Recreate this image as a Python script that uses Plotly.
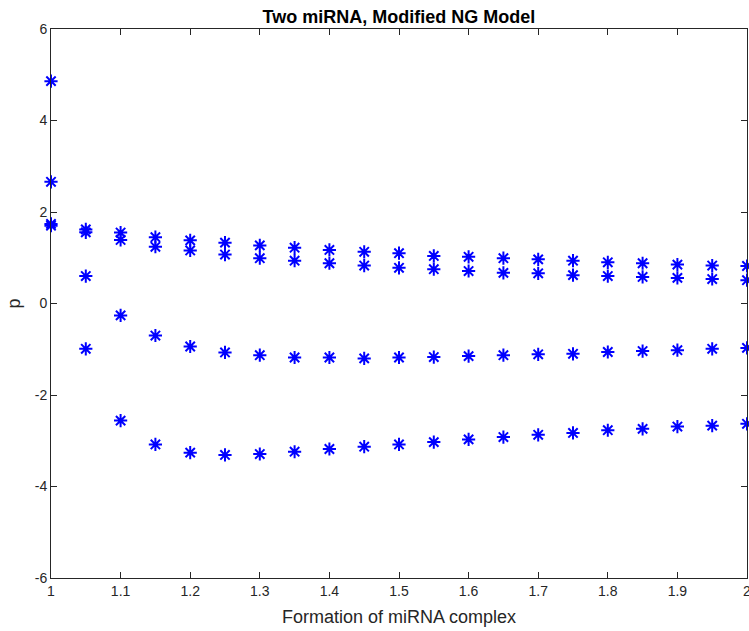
import plotly.graph_objects as go

x_vals = [1.00, 1.05, 1.10, 1.15, 1.20, 1.25, 1.30, 1.35, 1.40, 1.45, 1.50,
          1.55, 1.60, 1.65, 1.70, 1.75, 1.80, 1.85, 1.90, 1.95, 2.00]

root_1 = [4.86, 1.62, 1.55, 1.45, 1.38, 1.33, 1.27, 1.22, 1.17, 1.13, 1.10,
          1.04, 1.02, 0.99, 0.965, 0.935, 0.90, 0.88, 0.85, 0.83, 0.82]
root_2 = [2.66, 1.555, 1.39, 1.24, 1.16, 1.07, 0.99, 0.935, 0.88, 0.83, 0.78,
          0.75, 0.71, 0.67, 0.66, 0.62, 0.60, 0.58, 0.56, 0.535, 0.51]
root_3 = [1.74, 0.60, -0.26, -0.70, -0.94, -1.07, -1.13, -1.18, -1.18, -1.20, -1.18,
          -1.17, -1.15, -1.13, -1.11, -1.10, -1.06, -1.04, -1.02, -0.99, -0.97]
root_4 = [1.70, -0.99, -2.56, -3.08, -3.26, -3.31, -3.29, -3.24, -3.18, -3.13, -3.08,
          -3.03, -2.97, -2.92, -2.87, -2.83, -2.77, -2.74, -2.69, -2.67, -2.63]

x_ticks = [1, 1.1, 1.2, 1.3, 1.4, 1.5, 1.6, 1.7, 1.8, 1.9, 2]
x_tick_labels = ["1", "1.1", "1.2", "1.3", "1.4", "1.5", "1.6", "1.7", "1.8", "1.9", "2"]
y_ticks = [-6, -4, -2, 0, 2, 4, 6]
y_tick_labels = ["-6", "-4", "-2", "0", "2", "4", "6"]

FONT = "Liberation Sans, Arial, Helvetica, sans-serif"

fig = go.Figure()
for ys in (root_1, root_2, root_3, root_4):
    fig.add_trace(go.Scatter(
        x=x_vals, y=ys, mode="markers",
        marker=dict(symbol="asterisk-open", size=11, color="#0000ff",
                    line=dict(color="#0000ff", width=2)),
        showlegend=False, cliponaxis=False,
    ))

axis_common = dict(
    showgrid=False, zeroline=False, showline=True, linecolor="#262626", linewidth=1,
    mirror="ticks", ticks="inside", ticklen=6, tickcolor="#262626",
    ticklabeloverflow="allow", automargin=False,
    tickfont=dict(family=FONT, size=14, color="#262626"),
)

fig.update_layout(
    width=749, height=631,
    margin=dict(l=51, r=2, t=29, b=53, autoexpand=False),
    paper_bgcolor="white", plot_bgcolor="white",
    title=dict(text="<b>Two miRNA, Modified NG Model</b>", x=0.5325, xanchor="center",
               y=0.984, yanchor="top",
               font=dict(family=FONT, size=18, color="black")),
    xaxis=dict(range=[1, 2], tickvals=x_ticks, ticktext=x_tick_labels,
               title=dict(text="Formation of miRNA complex", standoff=12,
                          font=dict(family=FONT, size=18, color="#262626")),
               **axis_common),
    yaxis=dict(range=[-6, 6], tickvals=y_ticks, ticktext=y_tick_labels,
               title=dict(text="p", standoff=9,
                          font=dict(family=FONT, size=18, color="#262626")),
               **axis_common),
)

fig.write_html("out.html")
